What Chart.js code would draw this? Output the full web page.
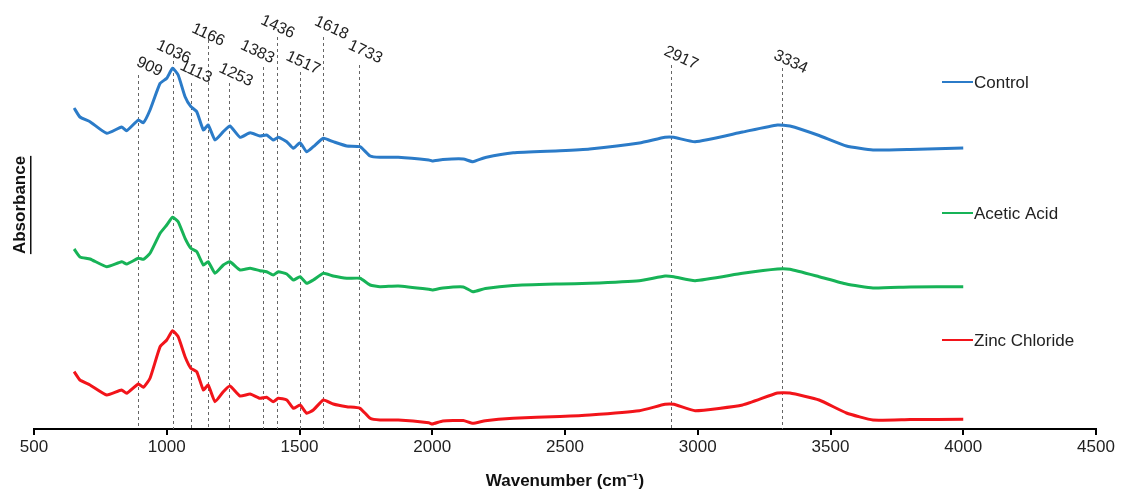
<!DOCTYPE html>
<html>
<head>
<meta charset="utf-8">
<script src="https://cdn.jsdelivr.net/npm/chart.js@4/dist/chart.umd.min.js"></script>
<style>
html,body{margin:0;padding:0;background:#fff;}
#wrap{width:1126px;height:495px;position:relative;}
</style>
</head>
<body>
<div id="wrap"><canvas id="c" width="1126" height="495"></canvas></div>
<script>
// ---- data ----
const wavenumbers = [651,673,711,774,830,849,893,912,937,975,1000,1022,1043,1069,1091,1113,1138,1156,1182,1213,1238,1276,1314,1351,1376,1401,1420,1452,1477,1502,1527,1552,1590,1627,1678,1728,1766,1803,
  1872,1987,2000,2040,2117,2153,2200,2305,2481,2593,2780,2877,2910,2990,3169,3300,3347,3457,3560,3660,3800,4000];
const seriesNames = ['Control','Acetic Acid','Zinc Chloride'];
const controlAbs = [32.1,31.2,30.73,29.57,30.2,29.83,30.9,30.63,31.9,34.57,35.07,36.07,35.4,33.23,32.23,31.73,29.9,30.4,28.9,29.73,30.3,29.17,29.63,29.3,29.4,28.9,29.17,28.73,28.07,28.63,27.73,28.23,29.07,28.73,28.3,28.23,27.3,27.17,
  27.17,26.9,26.8,26.95,27.0,26.73,27.15,27.63,27.83,28.0,28.6,29.17,29.17,28.73,29.7,30.4,30.3,29.35,28.3,27.9,27.95,28.1];
const aceticAbs = [18.0,17.2,17.0,16.23,16.73,16.5,17.07,16.97,17.57,19.57,20.4,21.17,20.73,19.07,18.07,17.73,16.4,16.73,15.57,16.4,16.73,15.9,16.07,15.83,15.73,15.4,15.73,15.5,14.9,15.23,14.57,14.9,15.57,15.3,15.07,15.07,14.4,14.23,
  14.3,13.97,13.9,14.1,14.2,13.73,14.05,14.35,14.5,14.57,14.83,15.3,15.23,14.83,15.57,16.0,15.97,15.23,14.5,14.1,14.2,14.23];
const zincAbs = [5.73,4.9,4.4,3.4,3.9,3.57,4.5,4.17,5.07,8.23,8.9,9.83,9.23,7.23,6.07,5.73,3.9,4.4,2.73,3.73,4.3,3.3,3.5,3.07,3.17,2.73,3.07,2.9,2.07,2.4,1.57,1.9,2.9,2.5,2.23,2.07,1.07,0.9,
  0.9,0.63,0.5,0.8,0.85,0.57,0.83,1.07,1.25,1.4,1.83,2.47,2.47,1.83,2.4,3.6,3.6,2.9,1.6,0.9,0.95,0.97];
const peakPositions = [893,1022,1091,1156,1234,1364,1414,1502,1590,1725,2899,3316];
const peakLabels = ['909','1036','1113','1166','1253','1383','1436','1517','1618','1733','2917','3334'];
const xTickValues = [500,1000,1500,2000,2500,3000,3500,4000,4500];

// ---- annotation layout (styling) ----
const peakLineTops = [35.4,37.4,34.6,38.9,34.6,36.2,39.2,35.7,39.2,36.4,36.4,36.1];
const peakLabelY  = [36.2,37.7,35.7,39.4,35.4,37.7,40.2,36.6,40.1,37.7,37.1,36.7];
const peakLabelDx = [11,1,5,0,7,-6,1,3,8,6,10,9];
const legendY = [82,213,340];
const colors = ['#2b7bc8','#17b357','#f2141a'];

const FONT = '"Liberation Sans", Arial, sans-serif';

function toPts(vals){ return wavenumbers.map((w,i)=>({x:w,y:vals[i]})); }

const peaksPlugin = {
  id:'peaks',
  beforeDatasetsDraw(chart){
    const {ctx, scales:{x,y}, chartArea} = chart;
    ctx.save();
    ctx.strokeStyle = '#666';
    ctx.lineWidth = 1;
    ctx.setLineDash([3,3]);
    peakPositions.forEach((p,i)=>{
      const px = Math.round(x.getPixelForValue(p))+0.5;
      ctx.beginPath();
      ctx.moveTo(px, y.getPixelForValue(peakLineTops[i]));
      ctx.lineTo(px, chartArea.bottom);
      ctx.stroke();
    });
    ctx.restore();
  },
  afterDatasetsDraw(chart){
    const {ctx, scales:{x,y}} = chart;
    ctx.save();
    ctx.fillStyle = '#222';
    ctx.font = '16px '+FONT;
    ctx.textAlign = 'center';
    ctx.textBaseline = 'middle';
    peakPositions.forEach((p,i)=>{
      const px = x.getPixelForValue(p)+peakLabelDx[i];
      const py = y.getPixelForValue(peakLabelY[i]);
      ctx.save();
      ctx.translate(px,py);
      ctx.rotate(25*Math.PI/180);
      ctx.fillText(peakLabels[i],0,0);
      ctx.restore();
    });
    // legend
    ctx.font = '17px '+FONT;
    ctx.textAlign = 'left';
    chart.data.datasets.forEach((ds,i)=>{
      const ly = legendY[i];
      ctx.strokeStyle = ds.borderColor;
      ctx.lineWidth = 2;
      ctx.beginPath();
      ctx.moveTo(942, ly);
      ctx.lineTo(973, ly);
      ctx.stroke();
      ctx.fillStyle = '#222';
      ctx.fillText(ds.label, 974, ly+1);
    });
    // y title
    ctx.save();
    ctx.translate(20, 205);
    ctx.rotate(-Math.PI/2);
    ctx.font = 'bold 17px '+FONT;
    ctx.fillStyle = '#111';
    ctx.textAlign = 'center';
    ctx.fillText('Absorbance',0,0);
    const w = ctx.measureText('Absorbance').width;
    ctx.fillRect(-w/2, 10, w, 1.5);
    ctx.restore();
    ctx.restore();
  }
};

new Chart(document.getElementById('c'), {
  type:'line',
  data:{
    datasets:[
      {label:seriesNames[0], data:toPts(controlAbs), borderColor:colors[0]},
      {label:seriesNames[1], data:toPts(aceticAbs), borderColor:colors[1]},
      {label:seriesNames[2], data:toPts(zincAbs), borderColor:colors[2]}
    ].map(d=>Object.assign(d,{borderWidth:3,pointRadius:0,tension:0.15,fill:false}))
  },
  options:{
    responsive:false,
    animation:false,
    layout:{padding:{left:34,right:30,top:20,bottom:0}},
    plugins:{legend:{display:false},tooltip:{enabled:false}},
    scales:{
      x:{
        type:'linear', min:500, max:4500,
        afterBuildTicks(s){ s.ticks = xTickValues.map(v=>({value:v})); },
        afterFit(s){ s.height = 66; },
        border:{display:true,color:'#000',width:2},
        grid:{display:true,drawOnChartArea:false,drawTicks:true,tickLength:6,color:'#000',lineWidth:2},
        ticks:{padding:2,color:'#222',font:{size:17,family:FONT},maxRotation:0,callback:v=>String(v)},
        title:{display:true,text:'Wavenumber (cm\u207B\u00B9)',color:'#111',font:{size:17,weight:'bold',family:FONT},padding:{top:4,bottom:3}}
      },
      y:{display:false,min:0,max:40.9}
    }
  },
  plugins:[peaksPlugin]
});
</script>
</body>
</html>
